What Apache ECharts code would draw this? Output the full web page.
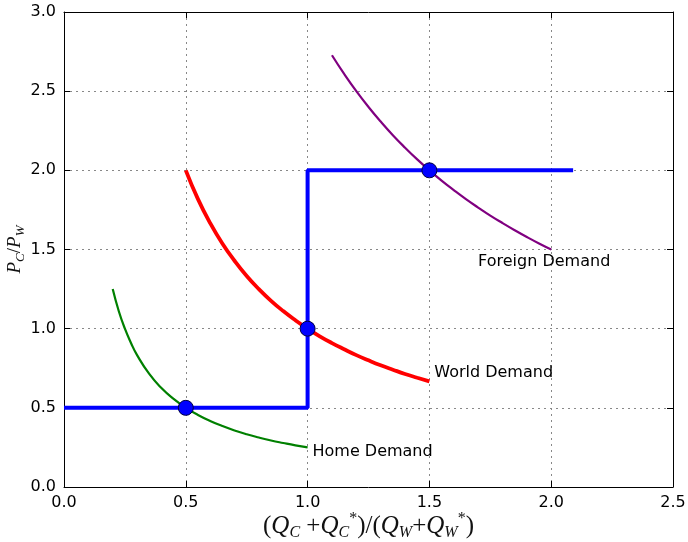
<!DOCTYPE html>
<html>
<head>
<meta charset="utf-8">
<script src="https://cdn.jsdelivr.net/npm/echarts@6/dist/echarts.min.js"></script>
<style>html,body{margin:0;padding:0;background:#fff;}#c{width:688px;height:542px;}</style>
</head>
<body>
<div id="c"></div>
<script>
// Data
const homeDemand = [[0.2,1.25],[0.225,1.11],[0.25,1.0],[0.275,0.91],[0.3,0.833],[0.35,0.714],[0.4,0.625],[0.45,0.556],[0.5,0.5],[0.55,0.455],[0.6,0.417],[0.65,0.385],[0.7,0.357],[0.75,0.333],[0.8,0.3125],[0.85,0.294],[0.9,0.278],[0.95,0.263],[1.0,0.25]];
const worldDemand = [[0.5,2.0],[0.55,1.818],[0.6,1.667],[0.65,1.538],[0.7,1.429],[0.75,1.333],[0.8,1.25],[0.85,1.176],[0.9,1.111],[0.95,1.053],[1.0,1.0],[1.05,0.952],[1.1,0.909],[1.15,0.87],[1.2,0.833],[1.25,0.8],[1.3,0.769],[1.35,0.741],[1.4,0.714],[1.45,0.69],[1.5,0.667]];
const foreignDemand = [[1.1,2.727],[1.15,2.609],[1.2,2.5],[1.25,2.4],[1.3,2.308],[1.35,2.222],[1.4,2.143],[1.45,2.069],[1.5,2.0],[1.55,1.935],[1.6,1.875],[1.65,1.818],[1.7,1.765],[1.75,1.714],[1.8,1.667],[1.85,1.622],[1.9,1.579],[1.95,1.538],[2.0,1.5]];
const supplyStep = [[0.0,0.5],[1.0,0.5],[1.0,2.0],[2.09,2.0]];
const equilibria = [[0.5,0.5],[1.0,1.0],[1.5,2.0]];
const curveLabels = [
  {name:'Foreign Demand', value:[1.7,1.4]},
  {name:'World Demand', value:[1.52,0.7]},
  {name:'Home Demand', value:[1.02,0.2]}
];
const xTicks = ['0.0','0.5','1.0','1.5','2.0','2.5'];
const yTicks = ['0.0','0.5','1.0','1.5','2.0','2.5','3.0'];

const chart = echarts.init(document.getElementById('c'), null, {renderer:'canvas'});
const lblFont = {fontFamily:'DejaVu Sans', fontSize:16, color:'#000'};
const serif = 'Liberation Serif';
const rich = {
  n:{fontFamily:serif, fontSize:25, lineHeight:30, verticalAlign:'middle', color:'#111'},
  i:{fontFamily:serif, fontStyle:'italic', fontSize:25, lineHeight:30, verticalAlign:'middle', color:'#111'},
  s:{fontFamily:serif, fontStyle:'italic', fontSize:16, lineHeight:30, verticalAlign:'bottom', color:'#111'},
  u:{fontFamily:serif, fontSize:16, lineHeight:30, verticalAlign:'top', color:'#111'},
  yn:{fontFamily:serif, fontSize:19, lineHeight:24, verticalAlign:'middle', color:'#111'},
  yi:{fontFamily:serif, fontStyle:'italic', fontSize:19, lineHeight:24, verticalAlign:'middle', color:'#111'},
  ys:{fontFamily:serif, fontStyle:'italic', fontSize:13, lineHeight:24, verticalAlign:'bottom', color:'#111'}
};
const axisCommon = {
  axisLine:{show:true, onZero:false, lineStyle:{color:'#000', width:1}},
  axisTick:{show:true, inside:true, length:6, lineStyle:{color:'#000'}}
};
chart.setOption({
  animation:false,
  backgroundColor:'#fff',
  grid:{left:64, right:15, top:12, bottom:55, containLabel:false, outerBoundsMode:'none'},
  xAxis:[
    Object.assign({type:'value', min:0, max:2.5, interval:0.5,
      axisLabel:Object.assign({margin:8, formatter:(v)=>xTicks[Math.round(v/0.5)]}, lblFont),
      splitLine:{show:true, lineStyle:{type:[2,4], color:'#888', width:1}},
      name:'{n|(}{i|Q}{s|C}{n| +}{i|Q}{s|C}{u|*}{n|)/(}{i|Q}{s|W}{n|+}{i|Q}{s|W}{u|*}{n|)}',
      nameLocation:'middle', nameGap:24, nameMoveOverlap:false, nameTextStyle:{rich:rich}
    }, axisCommon),
    Object.assign({type:'value', min:0, max:2.5, interval:0.5, position:'top',
      axisLabel:{show:false}, splitLine:{show:false}}, axisCommon)
  ],
  yAxis:[
    Object.assign({type:'value', min:0, max:3, interval:0.5,
      axisLabel:Object.assign({margin:8, formatter:(v)=>yTicks[Math.round(v/0.5)]}, lblFont),
      splitLine:{show:true, lineStyle:{type:[2,4], color:'#888', width:1}},
      name:'{yi|P}{ys|C}{yn|/}{yi|P}{ys|W}',
      nameLocation:'middle', nameGap:37, nameRotate:90, nameMoveOverlap:false, nameTextStyle:{rich:rich}
    }, axisCommon),
    Object.assign({type:'value', min:0, max:3, interval:0.5, position:'right',
      axisLabel:{show:false}, splitLine:{show:false}}, axisCommon)
  ],
  series:[
    {type:'line', data:homeDemand, smooth:0.5, showSymbol:false, lineStyle:{color:'#008000', width:2.2}, z:3},
    {type:'line', data:worldDemand, smooth:0.5, showSymbol:false, lineStyle:{color:'#ff0000', width:3.8}, z:3},
    {type:'line', data:foreignDemand, smooth:0.5, showSymbol:false, lineStyle:{color:'#800080', width:2.2}, z:3},
    {type:'line', data:supplyStep, showSymbol:false, lineStyle:{color:'#0000ff', width:4}, z:4},
    {type:'scatter', data:equilibria, symbolSize:15, itemStyle:{color:'#0000ff', opacity:1, borderColor:'#000040', borderWidth:1}, z:5},
    {type:'scatter', data:curveLabels, symbolSize:0, z:6, itemStyle:{opacity:1},
      label:Object.assign({show:true, opacity:1, position:[0,0], align:'left', verticalAlign:'bottom', offset:[0,5], textBorderWidth:0, formatter:(p)=>p.name}, lblFont)}
  ]
});
</script>
</body>
</html>
